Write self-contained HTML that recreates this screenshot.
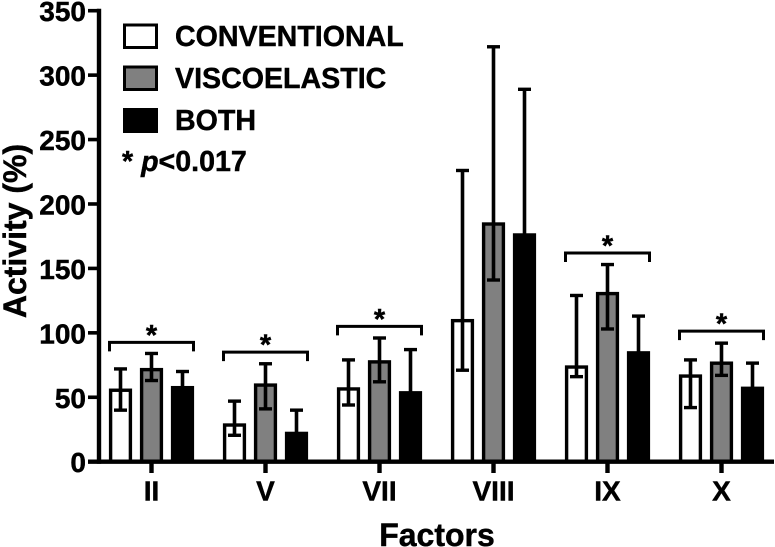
<!DOCTYPE html>
<html>
<head>
<meta charset="utf-8">
<style>
html,body{margin:0;padding:0;background:#fff;width:775px;height:547px;overflow:hidden}
svg{display:block;filter:blur(0.35px)}
text{font-family:"Liberation Sans",Arial,sans-serif;font-weight:bold;fill:#000;stroke:#000;stroke-width:0.45px}
</style>
</head>
<body>
<svg id="chart" xmlns="http://www.w3.org/2000/svg" width="775" height="547" viewBox="0 0 775 547">
  <text transform="translate(26,231) rotate(-90)" text-anchor="middle" font-size="32">Activity (%)</text>
  <text x="437" y="546" text-anchor="middle" font-size="32">Factors</text>
  <g>
    <rect x="124.5" y="25" width="32" height="22.5" fill="#fff" stroke="#000" stroke-width="3"/>
    <text x="175" y="46" font-size="28.6">CONVENTIONAL</text>
    <rect x="124.5" y="67" width="32" height="22.5" fill="#808080" stroke="#000" stroke-width="3"/>
    <text x="175" y="88" font-size="28.6">VISCOELASTIC</text>
    <rect x="123" y="108" width="35" height="25" fill="#000"/>
    <text x="175" y="130" font-size="28.6">BOTH</text>
    <text x="122" y="171" font-size="28.6">* <tspan font-style="italic">p</tspan>&lt;0.017</text>
  </g>
</svg>
<script>
const categories = ['II', 'V', 'VII', 'VIII', 'IX', 'X'];
const conventional = [56, 29, 57, 110, 74, 67];
const conventionalUpper = [72, 47, 79, 226, 129, 79];
const conventionalLower = [40, 20.5, 44, 71, 66, 42];
const viscoelastic = [72, 60, 78, 185, 131, 77];
const viscoelasticUpper = [84, 76, 96, 322, 153, 92];
const viscoelasticLower = [63, 41, 62, 141, 103, 67];
const both = [58, 22.5, 54, 176.5, 85, 57.5];
const bothUpper = [70, 40, 87, 289, 113, 76.5];
const yTicks = [0, 50, 100, 150, 200, 250, 300, 350];
const bracketCategories = ['II', 'V', 'VII', 'IX', 'X'];
const bracketValues = [92.6, 85, 105, 162, 101.3];

const svgNS = 'http://www.w3.org/2000/svg';
const chart = document.getElementById('chart');

function yScale(v) { return 461.7 - v * (451 / 350); }
function xScale(i) { return 151.5 + i * 114; }

function make(tag, attrs, text) {
  const el = document.createElementNS(svgNS, tag);
  for (const k in attrs) el.setAttribute(k, attrs[k]);
  if (text !== undefined) el.textContent = text;
  chart.appendChild(el);
  return el;
}
function line(x1, y1, x2, y2, w) {
  return make('line', { x1: x1, y1: y1, x2: x2, y2: y2, stroke: '#000', 'stroke-width': w });
}

const seriesList = [
  { key: 'conventional', values: conventional, upper: conventionalUpper, lower: conventionalLower, fill: '#fff', offset: -31 },
  { key: 'viscoelastic', values: viscoelastic, upper: viscoelasticUpper, lower: viscoelasticLower, fill: '#808080', offset: 0 },
  { key: 'both', values: both, upper: bothUpper, lower: null, fill: '#000', offset: 31 }
];

seriesList.forEach(function (s) {
  categories.forEach(function (cat, i) {
    const cx = xScale(i) + s.offset;
    const top = yScale(s.values[i]);
    const bar = make('rect', {
      x: cx - 9.9, y: top + 0.7, width: 19.8, height: Math.max(0, yScale(0) - top - 0.7),
      fill: s.fill, stroke: '#000', 'stroke-width': 3.4
    });
    
    

    const low = s.lower ? s.lower[i] : s.values[i];
    const stem = line(cx, yScale(s.upper[i]), cx, yScale(low), 3.6);
    
    
    const capTop = line(cx - 6.5, yScale(s.upper[i]), cx + 6.5, yScale(s.upper[i]), 3.4);
    
    
    if (s.lower) {
      const capLow = line(cx - 6.5, yScale(low), cx + 6.5, yScale(low), 3.4);
      
      
    }
  });
});

const yAxis = line(99, yScale(350) - 2, 99, yScale(0) + 2, 4.4);


const xAxis = line(88, yScale(0), 774, yScale(0), 4.4);



yTicks.forEach(function (t) {
  const tick = line(88, yScale(t), 99, yScale(t), 3.6);
  
  
  const label = make('text', { x: 86, y: yScale(t) + 10.5, 'text-anchor': 'end', 'font-size': 28 }, String(t));
  
  
});

categories.forEach(function (cat, i) {
  const cx = xScale(i);
  const tick = line(cx, yScale(0), cx, 473, 4.4);
  
  
  const label = make('text', { x: cx, y: 500.5, 'text-anchor': 'middle', 'font-size': 28 }, cat);
  
  
});

bracketCategories.forEach(function (cat, b) {
  const cx = xScale(categories.indexOf(cat));
  const y = yScale(bracketValues[b]);
  const bracket = make('path', {
    d: 'M' + (cx - 42) + ' ' + (y + 9) + 'V' + y + 'H' + (cx + 42) + 'V' + (y + 9),
    fill: 'none', stroke: '#000', 'stroke-width': 3
  });
  
  
  const star = make('text', { x: cx, y: y + 2.5, 'text-anchor': 'middle', 'font-size': 29 }, '*');
  
  
});
</script>
</body>
</html>
